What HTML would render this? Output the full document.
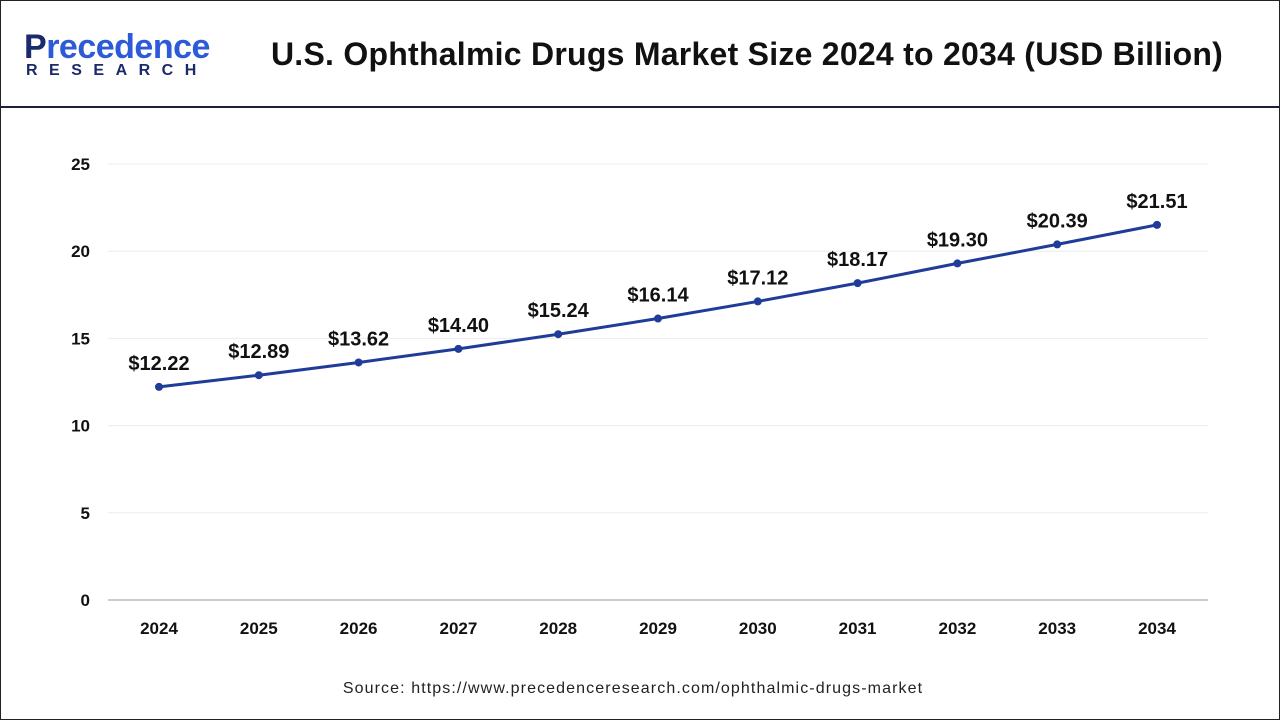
<!DOCTYPE html>
<html><head><meta charset="utf-8"><style>
body{margin:0;width:1280px;height:720px;background:#fff;font-family:"Liberation Sans",sans-serif;overflow:hidden}
#frame{position:absolute;left:0;top:0;width:1278px;height:718px;border:1px solid #222}
#hdr-line{position:absolute;left:0;top:106px;width:1280px;height:2px;background:#1a1f3a}
#title{position:absolute;left:222px;width:1050px;top:36px;text-align:center;font-size:32px;font-weight:bold;color:#111;letter-spacing:0.25px}
#logo1{position:absolute;left:24px;top:28px;font-size:34px;font-weight:bold;color:#1b2a6b;letter-spacing:-0.5px}
#logo1 span{color:#2d5bd7}
#logo2{position:absolute;left:26px;top:62px;font-size:16px;font-weight:bold;color:#1b2a6b;letter-spacing:11.5px}
#source{position:absolute;left:0;width:1266px;top:680px;text-align:center;font-size:16px;color:#222;letter-spacing:1.1px}
svg{position:absolute;left:0;top:0}
</style></head><body>
<div id="frame"></div>
<div id="logo1">P<span>recedence</span></div>
<div id="logo2">RESEARCH</div>
<div id="title">U.S. Ophthalmic Drugs Market Size 2024 to 2034 (USD Billion)</div>
<div id="hdr-line"></div>
<svg id="chart" width="1280" height="720"></svg>
<div id="source">Source: https://www.precedenceresearch.com/ophthalmic-drugs-market</div>
<script>
const years=["2024","2025","2026","2027","2028","2029","2030","2031","2032","2033","2034"];
const values=[12.22,12.89,13.62,14.40,15.24,16.14,17.12,18.17,19.30,20.39,21.51];
const labels=["$12.22","$12.89","$13.62","$14.40","$15.24","$16.14","$17.12","$18.17","$19.30","$20.39","$21.51"];
const yTicks=[0,5,10,15,20,25];
const NS="http://www.w3.org/2000/svg";
const svg=document.getElementById('chart');
const x0=159,dx=99.8,yBase=600,yTop=164,yMax=25;
const X=i=>x0+i*dx;
const Y=v=>yBase-(v/yMax)*(yBase-yTop);
function mk(t,a){const e=document.createElementNS(NS,t);for(const k in a)e.setAttribute(k,a[k]);svg.appendChild(e);return e;}
yTicks.forEach(t=>{
  const g=mk('line',{x1:108,x2:1208,y1:Y(t),y2:Y(t),stroke:t===0?'#999':'#ececec','stroke-width':1});
  
  
  const l=mk('text',{x:90,y:Y(t)+6,'text-anchor':'end','font-size':17,'font-weight':'bold',fill:'#111','font-family':'Liberation Sans'});
  l.textContent=t;
  
  
});
years.forEach((yr,i)=>{
  const l=mk('text',{x:X(i),y:634,'text-anchor':'middle','font-size':17,'font-weight':'bold',fill:'#111','font-family':'Liberation Sans'});
  l.textContent=yr;
  
  
});
const pl=mk('polyline',{points:values.map((v,i)=>X(i)+','+Y(v)).join(' '),fill:'none',stroke:'#1f3c99','stroke-width':3});


values.forEach((v,i)=>{
  const c=mk('circle',{cx:X(i),cy:Y(v),r:4,fill:'#1f3c99'});
  
  
  const t=mk('text',{x:X(i),y:Y(v)-17,'text-anchor':'middle','font-size':20,'font-weight':'bold',fill:'#111','font-family':'Liberation Sans'});
  t.textContent=labels[i];
  
  
});
</script>
</body></html>
